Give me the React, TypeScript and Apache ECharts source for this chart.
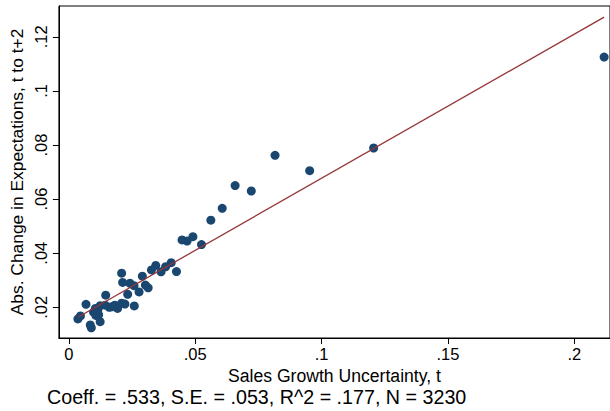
import React, { useEffect, useRef } from "react";
import * as echarts from "echarts";

const xValues = [
  0.0036, 0.0046, 0.0068, 0.0085, 0.0089, 0.0098, 0.0105, 0.0107, 0.0118, 0.0124,
  0.0124, 0.0115, 0.0144, 0.0146, 0.016, 0.017, 0.0182, 0.0193, 0.0209, 0.0222,
  0.0209, 0.0213, 0.0233, 0.0242, 0.0259, 0.0258, 0.0278, 0.0291, 0.0303, 0.0314,
  0.0327, 0.0344, 0.0365, 0.0383, 0.0405, 0.0426, 0.0448, 0.0468, 0.0491, 0.0525,
  0.0562, 0.0607, 0.0658, 0.0722, 0.0816, 0.0953, 0.1206, 0.2118,
];
const yValues = [
  0.0157, 0.0168, 0.0211, 0.0135, 0.0124, 0.0182, 0.0196, 0.017, 0.0172, 0.0147,
  0.0206, 0.019, 0.0208, 0.0245, 0.02, 0.0202, 0.0208, 0.0196, 0.0215, 0.0212,
  0.0326, 0.0292, 0.0248, 0.0289, 0.0205, 0.028, 0.0257, 0.0315, 0.0282, 0.0272,
  0.0338, 0.0355, 0.0331, 0.035, 0.0365, 0.0332, 0.0449, 0.0445, 0.0461, 0.0432,
  0.0522, 0.0566, 0.065, 0.063, 0.0762, 0.0705, 0.0789, 0.1125,
];
const fitCoeff = 0.533;
const fitIntercept = 0.0144;
const xTickValues = [0, 0.05, 0.1, 0.15, 0.2];
const xTickLabels = ["0", ".05", ".1", ".15", ".2"];
const yTickValues = [0.02, 0.04, 0.06, 0.08, 0.1, 0.12];
const yTickLabels = [".02", ".04", ".06", ".08", ".1", ".12"];
const xTitle = "Sales Growth Uncertainty, t";
const yTitle = "Abs. Change in Expectations, t to t+2";
const noteText = "Coeff. = .533, S.E. = .053, R^2 = .177, N = 3230";

const FONT = "'Liberation Sans', Arial, Helvetica, sans-serif";

export default function App() {
  const ref = useRef<HTMLDivElement>(null);
  useEffect(() => {
    if (!ref.current) return;
    const chart = echarts.init(ref.current, undefined, { renderer: "svg" });
    const pts = xValues.map((x, i) => [x, yValues[i]]);
    const xMin = Math.min(...xValues);
    const xMax = Math.max(...xValues);
    const fit = [
      [xMin, fitIntercept + fitCoeff * xMin],
      [xMax, fitIntercept + fitCoeff * xMax],
    ];
    const xLabelMap = new Map(xTickValues.map((v, i) => [v, xTickLabels[i]]));
    const yLabelMap = new Map(yTickValues.map((v, i) => [v, yTickLabels[i]]));
    chart.setOption({
      animation: false,
      backgroundColor: "#ffffff",
      grid: {
        left: 55,
        top: 6,
        width: 556,
        height: 332,
        show: true,
        borderColor: "#000",
        borderWidth: 1,
      },
      xAxis: {
        type: "value",
        min: -0.00392,
        max: 0.21412,
        splitLine: { show: false },
        axisLine: { show: true, onZero: false, lineStyle: { color: "#000", width: 1 } },
        axisTick: {
          show: true,
          customValues: xTickValues,
          length: 6,
          lineStyle: { color: "#000" },
        },
        axisLabel: {
          customValues: xTickValues,
          formatter: (v: number) => xLabelMap.get(v) ?? "",
          color: "#000",
          fontSize: 16.5,
          fontFamily: FONT,
          margin: 7,
        },
        name: xTitle,
        nameLocation: "middle",
        nameGap: 26,
        nameTextStyle: { color: "#000", fontSize: 17.6, fontFamily: FONT },
      },
      yAxis: {
        type: "value",
        min: 0.00865,
        max: 0.1314,
        splitLine: { show: false },
        axisLine: { show: true, onZero: false, lineStyle: { color: "#000", width: 1 } },
        axisTick: {
          show: true,
          customValues: yTickValues,
          length: 6,
          lineStyle: { color: "#000" },
        },
        axisLabel: {
          customValues: yTickValues,
          formatter: (v: number) => yLabelMap.get(v) ?? "",
          rotate: 90,
          color: "#000",
          fontSize: 16.5,
          fontFamily: FONT,
          margin: 9,
        },
        name: yTitle,
        nameLocation: "middle",
        nameGap: 29,
        nameTextStyle: { color: "#000", fontSize: 17.4, fontFamily: FONT },
      },
      series: [
        {
          type: "scatter",
          data: pts,
          symbol: "circle",
          symbolSize: 9,
          itemStyle: { color: "#1a476f", opacity: 1 },
          z: 2,
        },
        {
          type: "line",
          data: fit,
          showSymbol: false,
          symbol: "none",
          lineStyle: { color: "#953538", width: 1.3 },
          z: 3,
        },
      ],
      graphic: [
        {
          type: "text",
          left: 47,
          top: 387,
          style: { text: noteText, fill: "#000", fontSize: 19.7, fontFamily: FONT },
        },
      ],
    });
    return () => chart.dispose();
  }, []);
  return (
    <div
      ref={ref}
      style={{ position: "fixed", left: 0, top: 0, width: 610, height: 411, background: "#fff" }}
    />
  );
}
